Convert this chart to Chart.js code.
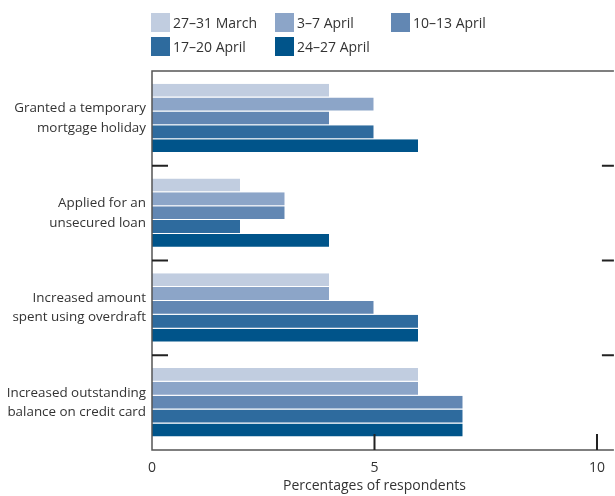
<!DOCTYPE html>
<html>
<head>
<meta charset="utf-8">
<script src="https://cdn.jsdelivr.net/npm/chart.js@4"></script>
<style>
  html, body { margin: 0; padding: 0; background: #fff; }
  #wrap { position: relative; width: 615px; height: 496px; }
  #legend { position: absolute; left: 0; top: 0; width: 615px; height: 70px; font-family: "Open Sans", sans-serif; font-size: 14px; color: #333; }
  .item { position: absolute; display: flex; align-items: center; height: 19px; }
  .box { width: 19px; height: 19px; margin-right: 3px; }
</style>
</head>
<body>
<div id="wrap">
  <canvas id="chart" width="615" height="496"></canvas>
  <div id="legend"></div>
</div>
<script>
const categories = [
  ['Granted a temporary', 'mortgage holiday'],
  ['Applied for an', 'unsecured loan'],
  ['Increased amount', 'spent using overdraft'],
  ['Increased outstanding', 'balance on credit card']
];
const seriesNames = ['27–31 March', '3–7 April', '10–13 April', '17–20 April', '24–27 April'];
const march27 = [4, 2, 4, 6];
const april3 = [5, 3, 4, 6];
const april10 = [4, 3, 5, 7];
const april17 = [5, 2, 6, 7];
const april24 = [6, 4, 6, 7];
const xTicks = [0, 5, 10];

const colors = ['#c1cde0', '#8ca5c8', '#6287b3', '#2e6b9e', '#00548a'];
const seriesValues = [march27, april3, april10, april17, april24];

// legend laid out as a grid like the original
const legendPos = [[151, 13], [275, 13], [391, 13], [151, 37], [275, 37]];
const legend = document.getElementById('legend');
seriesNames.forEach((name, i) => {
  const el = document.createElement('div');
  el.className = 'item';
  el.style.left = legendPos[i][0] + 'px';
  el.style.top = legendPos[i][1] + 'px';
  el.innerHTML = '<span class="box" style="background:' + colors[i] + '"></span>' + name;
  legend.appendChild(el);
});

const frame = {
  id: 'frame',
  afterDatasetsDraw(chart) {
    const { ctx, chartArea: a, scales: { x, y } } = chart;
    ctx.save();
    ctx.strokeStyle = '#555';
    ctx.lineWidth = 1.5;
    ctx.beginPath();
    ctx.moveTo(a.right, a.top); ctx.lineTo(a.left, a.top);
    ctx.lineTo(a.left, a.bottom); ctx.lineTo(a.right, a.bottom);
    ctx.stroke();

    ctx.strokeStyle = '#222';
    ctx.lineWidth = 2;
    ctx.beginPath();
    for (let i = 0; i < categories.length - 1; i++) {
      const yy = (y.getPixelForValue(i) + y.getPixelForValue(i + 1)) / 2;
      ctx.moveTo(a.left, yy); ctx.lineTo(a.left + 16, yy);
      ctx.moveTo(a.right - 12, yy); ctx.lineTo(a.right, yy);
    }
    xTicks.slice(1).forEach(v => {
      const xx = x.getPixelForValue(v);
      ctx.moveTo(xx, a.bottom); ctx.lineTo(xx, a.bottom - 16);
    });
    ctx.stroke();

    ctx.fillStyle = '#333';
    ctx.font = '14px "Open Sans"';
    ctx.textAlign = 'center';
    ctx.textBaseline = 'middle';
    ctx.fillText('Percentages of respondents', (x.getPixelForValue(0) + x.getPixelForValue(10)) / 2, 486);
    ctx.restore();
  }
};

new Chart(document.getElementById('chart'), {
  type: 'bar',
  data: {
    labels: categories,
    datasets: seriesNames.map((name, i) => ({
      label: name,
      data: seriesValues[i],
      backgroundColor: colors[i],
      borderColor: 'rgba(255,255,255,0.45)',
      borderWidth: { right: 1, bottom: 1, top: 0, left: 0 },
      borderSkipped: false,
      barPercentage: 1,
      categoryPercentage: 0.73
    }))
  },
  options: {
    indexAxis: 'y',
    responsive: false,
    animation: false,
    layout: { padding: { top: 71, right: 0, left: 0, bottom: 0 } },
    plugins: { legend: { display: false }, tooltip: { enabled: false } },
    scales: {
      x: {
        min: 0,
        max: 10.38,
        afterBuildTicks: s => { s.ticks = xTicks.map(v => ({ value: v })); },
        afterFit: s => { s.height = 46; },
        grid: { display: false, drawTicks: false },
        border: { display: false },
        ticks: { color: '#333', padding: 10, font: { family: 'Open Sans', size: 14 } }
      },
      y: {
        afterFit: s => { s.width = 152; },
        grid: { display: false, drawTicks: false },
        border: { display: false },
        ticks: { color: '#333', padding: 6, font: { family: 'Open Sans', size: 13.4, lineHeight: 1.45 } }
      }
    }
  },
  plugins: [frame]
});
</script>
</body>
</html>
